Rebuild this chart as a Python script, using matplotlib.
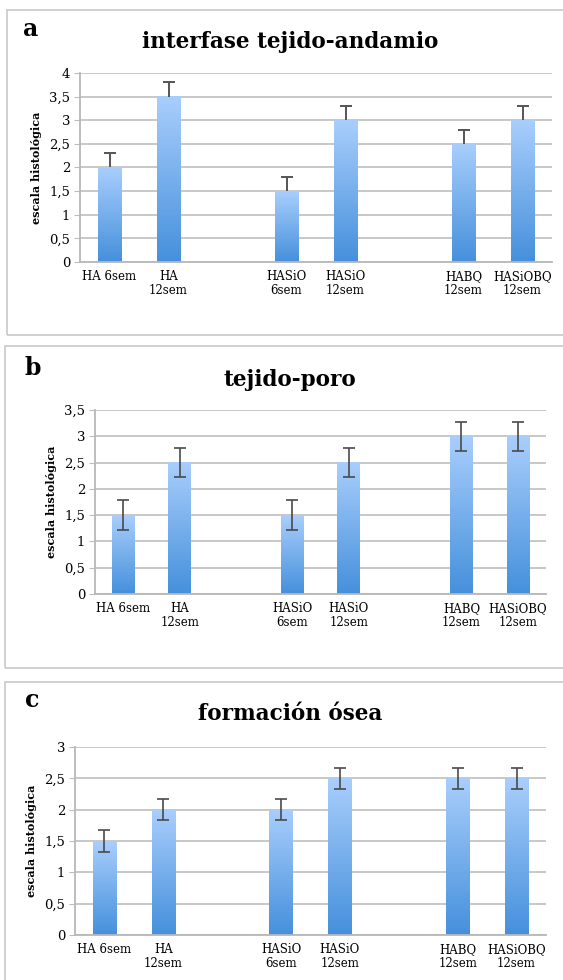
import numpy as np
import matplotlib
matplotlib.use("Agg")
import matplotlib.pyplot as plt
from matplotlib.colors import LinearSegmentedColormap
from matplotlib.patches import Rectangle

plt.rcParams['font.family'] = ['DejaVu Serif']

# categories (empty slots separate the three groups)
positions = [0, 1, 3, 4, 6, 7]
labels = ['HA 6sem', 'HA\n12sem', 'HASiO\n6sem', 'HASiO\n12sem', 'HABQ\n12sem', 'HASiOBQ\n12sem']

# panel data
interfase = [2, 3.5, 1.5, 3, 2.5, 3]
interfase_err = [0.3, 0.3, 0.3, 0.3, 0.3, 0.3]
poro = [1.5, 2.5, 1.5, 2.5, 3, 3]
poro_err = [0.28, 0.28, 0.28, 0.28, 0.28, 0.28]
osea = [1.5, 2, 2, 2.5, 2.5, 2.5]
osea_err = [0.17, 0.17, 0.17, 0.17, 0.17, 0.17]

W, H = 563, 980
fig = plt.figure(figsize=(W / 100, H / 100), dpi=100)

cmap = LinearSegmentedColormap.from_list('bar', ['#4590dc', '#a9cefc'])
grad = np.linspace(0, 1, 256).reshape(-1, 1)


def px_axes(left, right, top, bottom):
    return fig.add_axes([left / W, 1 - bottom / H, (right - left) / W, (bottom - top) / H])


def frame(left, top, right, bottom):
    fig.patches.append(Rectangle((left / W, 1 - bottom / H), (right - left) / W, (bottom - top) / H,
                                 transform=fig.transFigure, fill=False, edgecolor='#c8c8c8', lw=1.2))


def panel(ax, vals, err, ymax, yticks, yticklabels, title, letter, plus_only, title_y, letter_xy):
    bars = ax.bar(positions, vals, width=0.4, color='none', zorder=2)
    for b in bars:
        x0, w, h = b.get_x(), b.get_width(), b.get_height()
        ax.imshow(grad, cmap=cmap, extent=[x0, x0 + w, 0, h], origin='lower',
                  aspect='auto', zorder=2)
    vals_a = np.array(vals)
    err_a = np.array(err)
    if plus_only:
        # only the upper half with a single cap
        ax.vlines(positions, vals_a, vals_a + err_a, color='#555555', lw=1.4, zorder=3)
        ax.plot(positions, vals_a + err_a, ls='none', marker='_', ms=9, mew=1.4,
                color='#555555', zorder=3)
    else:
        ax.errorbar(positions, vals, yerr=err, fmt='none', ecolor='#4a4a4a',
                    elinewidth=1.2, capsize=4, capthick=1.2, zorder=3)
    ax.set_xlim(-0.5, 7.5)
    ax.set_ylim(0, ymax)
    ax.set_yticks(yticks)
    ax.set_yticklabels(yticklabels, fontsize=9.5)
    ax.set_xticks(positions)
    ax.set_xticklabels(labels, fontsize=8.5, linespacing=1.1)
    ax.tick_params(axis='x', length=0, pad=6)
    ax.tick_params(axis='y', length=4, color='#bdbdbd', pad=3)
    ax.grid(axis='y', color='#c4c4c4', lw=1.3, zorder=0)
    ax.set_axisbelow(True)
    for s in ['top', 'right']:
        ax.spines[s].set_visible(False)
    for s in ['left', 'bottom']:
        ax.spines[s].set_color('#b8b8b8')
        ax.spines[s].set_linewidth(1.3)
    ax.set_ylabel('escala histológica', fontsize=8, fontweight='bold', labelpad=5)
    fig.text(0.515, 1 - title_y / H, title, ha='center', va='center', fontsize=15.5, fontweight='bold')
    fig.text(letter_xy[0] / W, 1 - letter_xy[1] / H, letter, ha='center', va='center',
             fontsize=17, fontweight='bold')


frame(7, 10, 575, 335)
frame(5, 346, 575, 668)
frame(5, 682, 575, 995)

ax_a = px_axes(80, 552, 73, 262)
panel(ax_a, interfase, interfase_err, 4, np.arange(0, 4.01, 0.5),
      ['0', '0,5', '1', '1,5', '2', '2,5', '3', '3,5', '4'],
      'interfase tejido-andamio', 'a', True, 42, (31, 29))

ax_b = px_axes(95, 546, 410, 594)
panel(ax_b, poro, poro_err, 3.5, np.arange(0, 3.51, 0.5),
      ['0', '0,5', '1', '1,5', '2', '2,5', '3', '3,5'],
      'tejido-poro', 'b', False, 380, (33, 368))

ax_c = px_axes(75, 546, 747, 935)
panel(ax_c, osea, osea_err, 3, np.arange(0, 3.01, 0.5),
      ['0', '0,5', '1', '1,5', '2', '2,5', '3'],
      'formación ósea', 'c', False, 714, (32, 700))

fig.savefig('out.png', dpi=100)
